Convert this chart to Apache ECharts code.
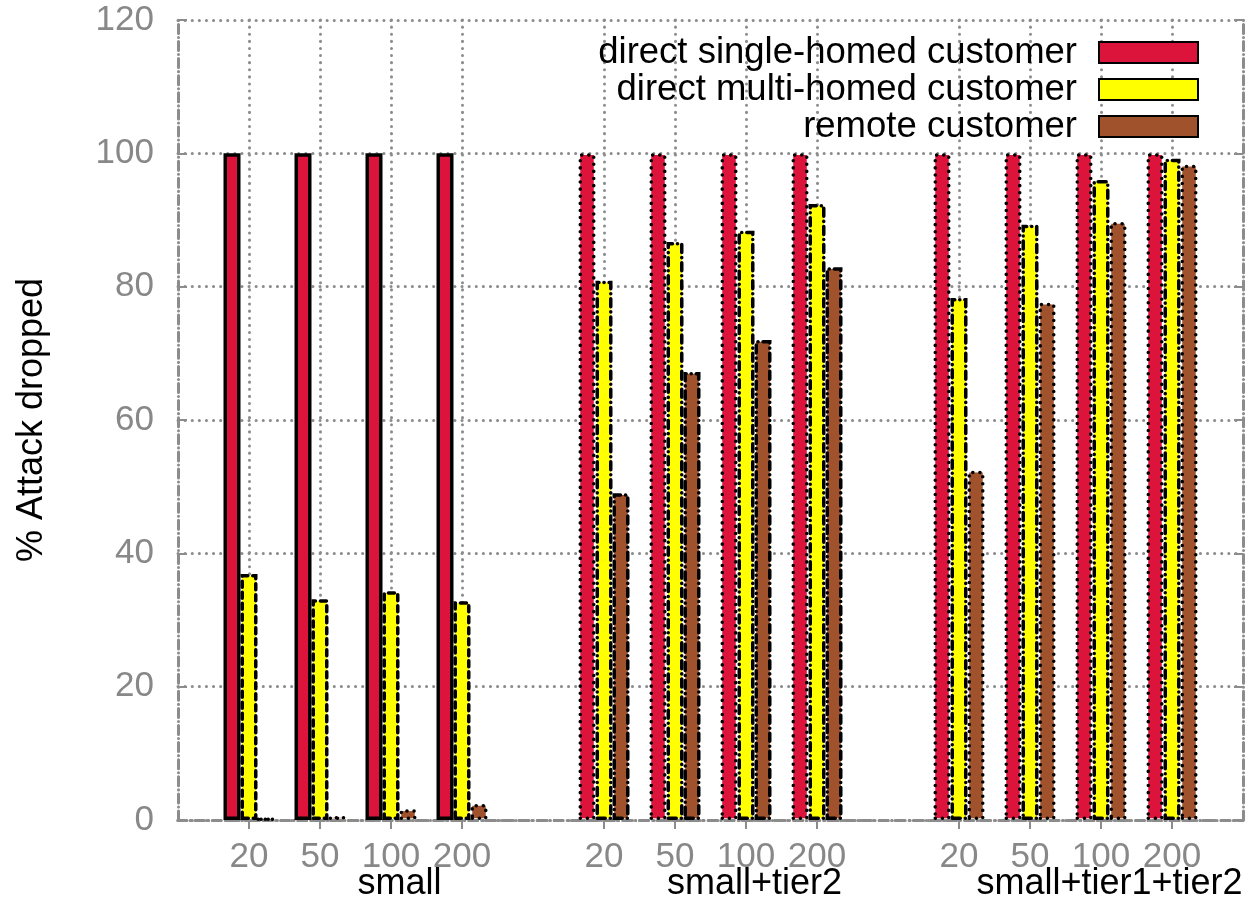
<!DOCTYPE html>
<html>
<head>
<meta charset="utf-8">
<script src="https://cdn.jsdelivr.net/npm/echarts@6/dist/echarts.min.js"></script>
<style>
  html, body { margin: 0; padding: 0; background: #fff; }
  #chart { width: 1247px; height: 903px; }
</style>
</head>
<body>
<div id="chart"></div>
<script>
// data
var groups = ['small', 'small+tier2', 'small+tier1+tier2'];
var sizes = ['20', '50', '100', '200'];
var seriesNames = ['direct single-homed customer', 'direct multi-homed customer', 'remote customer'];
var singleHomed = [100, 100, 100, 100, 100, 100, 100, 100, 100, 100, 100, 100];
var multiHomed = [36.9, 33.1, 34.3, 32.8, 80.9, 86.7, 88.4, 92.4, 78.3, 89.3, 96.0, 99.2];
var remote = [0.2, 0.6, 1.6, 2.4, 49.0, 67.2, 72.0, 82.9, 52.4, 77.6, 89.7, 98.3];

var FONT = "'Liberation Sans', Arial, Helvetica, sans-serif";
var GRID_GREY = '#8c8c8c';

// dash patterns (round caps turn the tiny dashes into dots)
var SOLID = 'solid';
var DASH = [6, 5];
var DOT = [0.1, 7];
var DASHDOT = [8, 5, 0.1, 5];

// border dash per group (gnuplot cycles line types on each new histogram)
var borderTypes = [
    [SOLID, DASH, DOT],
    [DOT, DASHDOT, DASHDOT],
    [DOT, DASHDOT, DOT]
];

// slots: one empty slot at each side and between the groups
var slots = [''];
groups.forEach(function (g) {
    sizes.forEach(function (s) { slots.push(s); });
    slots.push('');
});

function buildData(values, si) {
    var out = [null];
    groups.forEach(function (g, gi) {
        sizes.forEach(function (s, k) {
            out.push({
                value: values[gi * sizes.length + k],
                itemStyle: {
                    borderType: borderTypes[gi][si],
                    borderCap: borderTypes[gi][si] === SOLID ? 'butt' : 'round'
                }
            });
        });
        out.push(null);
    });
    return out;
}

function isRealSlot(index) {
    return slots[index] !== '';
}

var colors = ['#dc143c', '#ffff00', '#a0522d'];
var allValues = [singleHomed, multiHomed, remote];

var series = seriesNames.map(function (name, si) {
    return {
        name: name,
        type: 'bar',
        xAxisIndex: 0,
        yAxisIndex: 0,
        barWidth: 17,
        barGap: '0%',
        data: buildData(allValues[si], si),
        itemStyle: {
            color: colors[si],
            borderColor: '#000',
            borderWidth: 3.5,
            borderType: borderTypes[0][si],
            borderCap: si === 0 ? 'butt' : 'round'
        },
        emphasis: { disabled: true },
        z: 3
    };
});

var chart = echarts.init(document.getElementById('chart'));
var option = {
    animation: false,
    backgroundColor: '#fff',
    textStyle: { fontFamily: FONT },
    grid: { left: 178, right: 4, top: 20, bottom: 83 },
    legend: {
        orient: 'vertical',
        right: 48,
        top: 34,
        padding: 0,
        align: 'right',
        itemWidth: 99,
        itemHeight: 21,
        itemGap: 0,
        icon: 'rect',
        selectedMode: false,
        textStyle: { fontSize: 36.5, color: '#000', fontFamily: FONT, padding: [0, 17, 0, 0] },
        data: seriesNames
    },
    xAxis: [
        {
            type: 'category',
            data: slots,
            boundaryGap: false,
            position: 'bottom',
            axisLine: { lineStyle: { color: GRID_GREY, width: 3, type: [9, 4, 0.1, 4], cap: 'round' } },
            axisTick: { show: true, inside: true, length: 9, interval: isRealSlot,
                lineStyle: { color: GRID_GREY, width: 2 } },
            axisLabel: { interval: 0, fontSize: 35, color: '#888', margin: 20, fontFamily: FONT },
            splitLine: { show: true, interval: isRealSlot,
                lineStyle: { color: GRID_GREY, width: 3, type: [0.1, 7], cap: 'round' } }
        },
        {
            type: 'category',
            data: slots,
            boundaryGap: false,
            position: 'top',
            axisLine: { lineStyle: { color: GRID_GREY, width: 3, type: [0.1, 6], cap: 'round' } },
            axisTick: { show: true, inside: true, length: 9, interval: isRealSlot,
                lineStyle: { color: GRID_GREY, width: 2 } },
            axisLabel: { show: false },
            splitLine: { show: false }
        }
    ],
    yAxis: [
        {
            type: 'value',
            min: 0,
            max: 120,
            interval: 20,
            name: '% Attack dropped',
            nameLocation: 'middle',
            nameGap: 128,
            nameTextStyle: { fontSize: 36, color: '#000', fontFamily: FONT },
            axisLine: { show: true, lineStyle: { color: GRID_GREY, width: 3, type: [9, 4, 0.1, 4], cap: 'round' } },
            axisTick: { show: true, inside: true, length: 9, lineStyle: { color: GRID_GREY, width: 2 } },
            axisLabel: { fontSize: 35, color: '#888', margin: 24, fontFamily: FONT },
            splitLine: { show: true, lineStyle: { color: GRID_GREY, width: 3, type: [0.1, 7], cap: 'round' } }
        },
        {
            type: 'value',
            min: 0,
            max: 120,
            interval: 20,
            position: 'right',
            axisLine: { show: true, lineStyle: { color: GRID_GREY, width: 3, type: [9, 4, 0.1, 4], cap: 'round' } },
            axisTick: { show: true, inside: true, length: 9, lineStyle: { color: GRID_GREY, width: 2 } },
            axisLabel: { show: false },
            splitLine: { show: false }
        }
    ],
    series: series
};
chart.setOption(option);

// group titles under the size labels (gnuplot puts them a bit right of the group centre)
var titles = groups.map(function (g, gi) {
    var a = chart.convertToPixel({ xAxisIndex: 0 }, 3 + gi * 5);
    var b = chart.convertToPixel({ xAxisIndex: 0 }, 4 + gi * 5);
    var y = chart.convertToPixel({ yAxisIndex: 0 }, 0);
    return {
        type: 'text',
        x: a + 0.12 * (b - a),
        y: y + 64,
        style: {
            text: g,
            fontSize: 36,
            fontFamily: FONT,
            fill: '#000',
            align: 'center',
            verticalAlign: 'middle'
        }
    };
});
chart.setOption({ graphic: titles });
</script>
</body>
</html>
